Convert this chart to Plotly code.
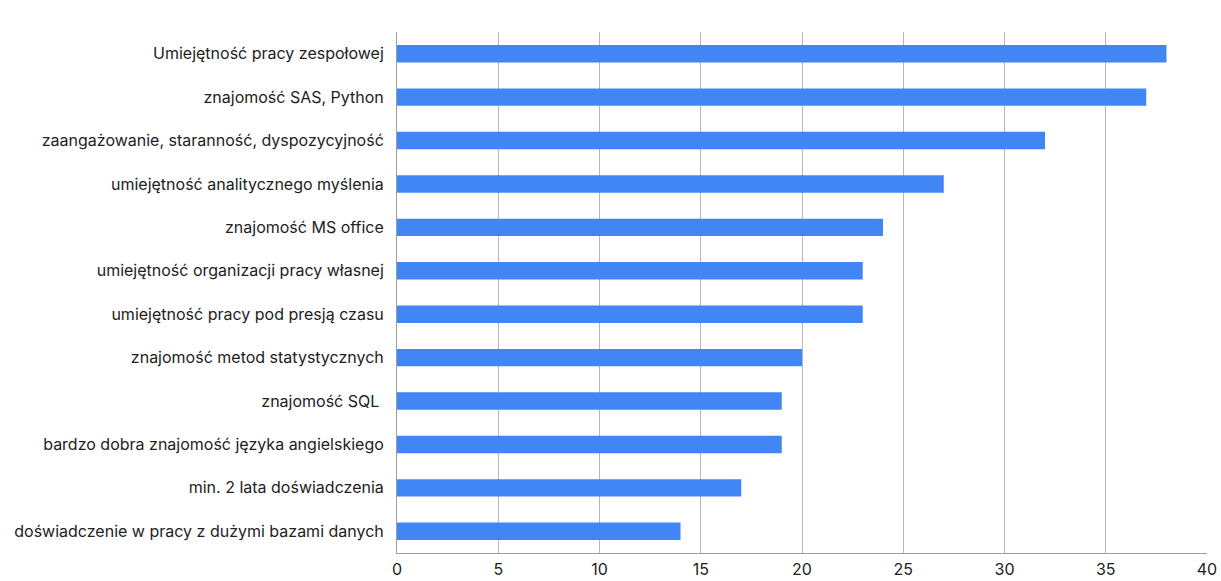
import plotly.graph_objects as go

categories = [
    "Umiejętność pracy zespołowej",
    "znajomość SAS, Python",
    "zaangażowanie, staranność, dyspozycyjność",
    "umiejętność analitycznego myślenia",
    "znajomość MS office",
    "umiejętność organizacji pracy własnej",
    "umiejętność pracy pod presją czasu",
    "znajomość metod statystycznych",
    "znajomość SQL ",
    "bardzo dobra znajomość języka angielskiego",
    "min. 2 lata doświadczenia",
    "doświadczenie w pracy z dużymi bazami danych",
]
counts = [38, 37, 32, 27, 24, 23, 23, 20, 19, 19, 17, 14]
x_ticks = [0, 5, 10, 15, 20, 25, 30, 35, 40]

fig = go.Figure(
    go.Bar(
        x=counts,
        y=categories,
        orientation="h",
        marker=dict(color="#4285F4", line=dict(width=0)),
        hoverinfo="x+y",
    )
)

fig.update_layout(
    width=1221,
    height=581,
    margin=dict(l=397, r=14, t=32, b=28),
    paper_bgcolor="white",
    plot_bgcolor="white",
    bargap=0.6,
    showlegend=False,
    font=dict(family="Inter, Roboto, sans-serif", size=16, color="#222222"),
)

fig.update_xaxes(
    range=[0, 40],
    tickvals=x_ticks,
    automargin=False,
    showgrid=True,
    gridcolor="#B7B7B7",
    gridwidth=1,
    zeroline=False,
    showline=True,
    linecolor="#9E9E9E",
    linewidth=1,
    ticks="",
    ticklabelstandoff=2,
    tickfont=dict(size=16),
)

fig.update_yaxes(
    categoryorder="array",
    categoryarray=categories[::-1],
    automargin=False,
    showgrid=False,
    zeroline=False,
    showline=True,
    linecolor="#9E9E9E",
    linewidth=1,
    ticks="",
    ticklabelstandoff=9,
    tickfont=dict(size=16),
)

fig.write_html("out.html")
